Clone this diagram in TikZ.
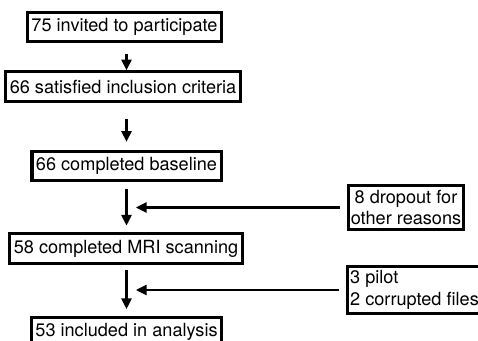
\documentclass[tikz,border=0pt]{standalone}
\usepackage{fontspec}
\setmainfont{TeX Gyre Heros}
\usetikzlibrary{arrows.meta}

\begin{document}
\begin{tikzpicture}[x=0.75pt,y=0.75pt,
  stage/.style={draw,line width=2.3pt,inner xsep=3pt,inner ysep=0pt,minimum height=22pt,
    font=\fontsize{13.6}{15}\selectfont},
  side/.style={draw,line width=2.3pt,inner xsep=2pt,inner ysep=3.5pt,
    font=\fontsize{13.6}{16}\selectfont},
  flow/.style={line width=1.8pt,-{Triangle[length=8pt,width=7.5pt]}}]
\useasboundingbox (0,0) rectangle (478,340);
\fill[white] (0,0) rectangle (478,340);
% main stages
\node[stage] (invited) at (124.5,313) {75 invited to participate};
\node[stage] (eligible) at (123,253.5) {66 satisfied inclusion criteria};
\node[stage] (baseline) at (126.5,174) {66 completed baseline};
\node[stage] (scanned) at (126,91.5) {58 completed MRI scanning};
\node[stage] (analysed) at (126.5,8) {53 included in analysis};
% exclusions
\node[side,align=center] (dropout) at (406,132.5) {8 dropout for\\other reasons};
\node[side,align=left,anchor=west] (excluded) at (346,50) {3 pilot\\2 corrupted files};
% arrows
\draw[flow,shorten <=8pt] (invited.south -| baseline) -- (eligible.north -| baseline);
\draw[flow,shorten <=12pt,shorten >=6pt] (eligible.south -| baseline) -- (baseline.north);
\draw[flow,shorten <=5pt,shorten >=5pt] (baseline.south) -- (scanned.north -| baseline);
\draw[flow,shorten <=4pt,shorten >=5pt] (scanned.south -| baseline) -- (analysed.north);
\draw[flow,shorten <=5pt,shorten >=7pt] (dropout.west) -- (dropout.west -| baseline);
\draw[flow,shorten <=5pt,shorten >=7pt] (excluded.west) -- (excluded.west -| baseline);
\end{tikzpicture}
\end{document}
